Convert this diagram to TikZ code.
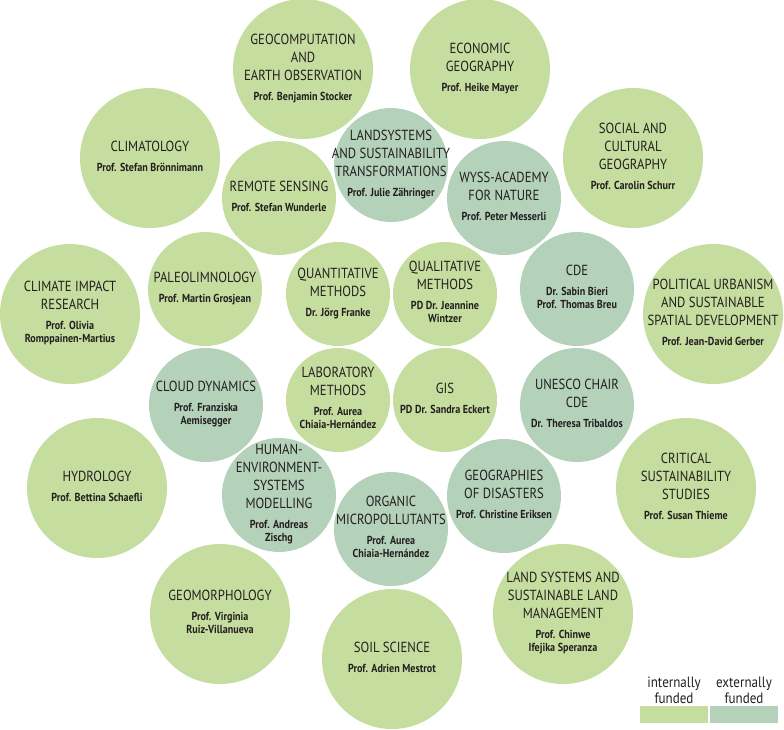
\documentclass[tikz,border=0pt]{standalone}
\usepackage{fontspec}
\setmainfont{PT Sans}[FakeStretch=0.87]
\definecolor{intgreen}{RGB}{197,221,158}
\definecolor{extgreen}{RGB}{180,209,185}
\definecolor{txtcol}{RGB}{35,31,32}
\newcommand{\ttlfont}{\fontsize{14.6}{18}\selectfont}
\newcommand{\nmfont}{\fontsize{11.6}{12.8}\selectfont\bfseries}
\tikzset{
  bubble/.style={circle, draw=none, inner sep=0pt, minimum size=#1},
  intf/.style={fill=intgreen},
  extf/.style={fill=extgreen},
  lbl/.style={align=center, text=txtcol, inner sep=0pt, font=\ttlfont},
  legtxt/.style={align=center, text=txtcol, inner sep=0pt, font=\fontsize{15}{16}\selectfont},
}
% name, x, y, diameter, fill style, title, names
\newcommand{\bub}[7]{%
  \node[bubble=#4pt,#5] (#1) at (#2,#3) {};
  \node[lbl] (#1t) at (#1.center) {#6\\[2pt]{\nmfont\begin{tabular}[t]{@{}c@{}}#7\end{tabular}}};
}
\begin{document}
\begin{tikzpicture}[x=1pt,y=-1pt]
\useasboundingbox (0,0) rectangle (784,729);
% outer ring
\bub{geo}{303}{69}{140}{intf}{GEOCOMPUTATION\\AND\\EARTH OBSERVATION}{Prof. Benjamin Stocker}
\bub{eco}{480}{69}{140}{intf}{ECONOMIC\\GEOGRAPHY}{Prof. Heike Mayer}
\bub{cli}{150}{158}{140}{intf}{CLIMATOLOGY}{Prof. Stefan Brönnimann}
\bub{soc}{633}{158}{140}{intf}{SOCIAL AND\\CULTURAL\\GEOGRAPHY}{Prof. Carolin Schurr}
\bub{cir}{70}{314}{140}{intf}{CLIMATE IMPACT\\RESEARCH}{Prof. Olivia\\Romppainen-Martius}
\bub{pol}{713}{314}{140}{intf}{POLITICAL URBANISM\\AND SUSTAINABLE\\SPATIAL DEVELOPMENT}{Prof. Jean-David Gerber}
\bub{hyd}{97}{488}{140}{intf}{HYDROLOGY}{Prof. Bettina Schaefli}
\bub{crs}{686}{488}{140}{intf}{CRITICAL\\SUSTAINABILITY\\STUDIES}{Prof. Susan Thieme}
\bub{gmo}{220}{614}{140}{intf}{GEOMORPHOLOGY}{Prof. Virginia\\Ruiz-Villanueva}
\bub{lsm}{563}{614}{140}{intf}{LAND SYSTEMS AND\\SUSTAINABLE LAND\\MANAGEMENT}{Prof. Chinwe\\Ifejika Speranza}
\bub{soi}{392}{659}{140}{intf}{SOIL SCIENCE}{Prof. Adrien Mestrot}
% middle ring
\bub{lst}{391}{165}{114}{extf}{LANDSYSTEMS\\AND SUSTAINABILITY\\TRANSFORMATIONS}{Prof. Julie Zähringer}
\bub{wys}{504}{198}{114}{extf}{WYSS-ACADEMY\\FOR NATURE}{Prof. Peter Messerli}
\bub{rem}{279}{198}{114}{intf}{REMOTE SENSING}{Prof. Stefan Wunderle}
\bub{pal}{205}{289}{114}{intf}{PALEOLIMNOLOGY}{Prof. Martin Grosjean}
\bub{cde}{577}{289}{114}{extf}{CDE}{Dr. Sabin Bieri\\Prof. Thomas Breu}
\bub{clo}{206}{405}{114}{extf}{CLOUD DYNAMICS}{Prof. Franziska\\Aemisegger}
\bub{une}{577}{405}{114}{extf}{UNESCO CHAIR\\CDE}{Dr. Theresa Tribaldos}
\bub{hum}{279}{495}{114}{extf}{HUMAN-\\ENVIRONMENT-\\SYSTEMS\\MODELLING}{Prof. Andreas\\Zischg}
\bub{org}{391}{529}{114}{extf}{ORGANIC\\MICROPOLLUTANTS}{Prof. Aurea\\Chiaia-Hernández}
\bub{dis}{504}{496}{114}{extf}{GEOGRAPHIES\\OF DISASTERS}{Prof. Christine Eriksen}
% inner
\bub{qnt}{338}{294}{104}{intf}{QUANTITATIVE\\METHODS}{Dr. Jörg Franke}
\bub{qlt}{445}{294}{104}{intf}{QUALITATIVE\\METHODS}{PD Dr. Jeannine\\Wintzer}
\bub{lab}{338}{400}{104}{intf}{LABORATORY\\METHODS}{Prof. Aurea\\Chiaia-Hernández}
\bub{gis}{445}{400}{104}{intf}{GIS}{PD Dr. Sandra Eckert}
% legend
\node[legtxt] (lint) at (674,690) {internally\\funded};
\node[legtxt] (lext) at (744,690) {externally\\funded};
\fill[intgreen] (640,706) rectangle (708,723);
\fill[extgreen] (710,706) rectangle (778,723);
\end{tikzpicture}
\end{document}
